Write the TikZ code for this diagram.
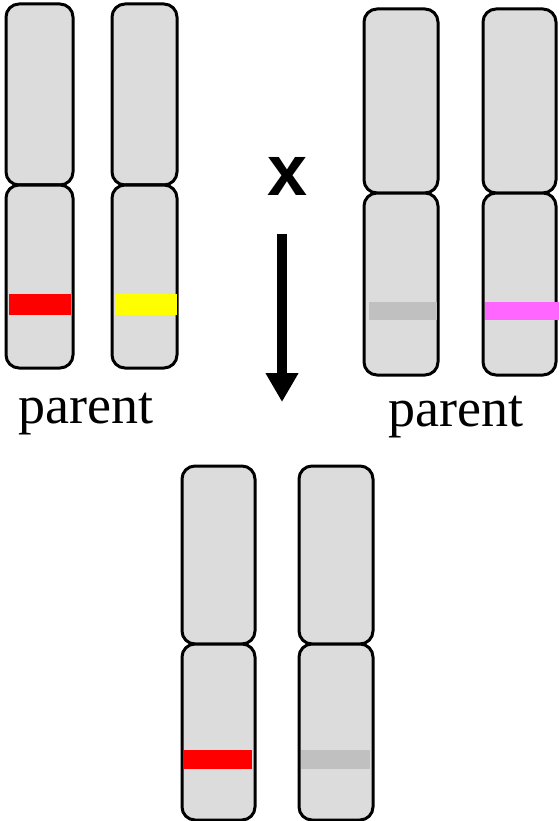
\documentclass[tikz,border=0pt]{standalone}
\usepackage{fontspec}
\setmainfont{Liberation Serif}
\newfontfamily\crossfont{Liberation Sans}
\usetikzlibrary{arrows.meta}
\definecolor{armgray}{RGB}{220,220,220}
\definecolor{bandgray}{RGB}{192,192,192}
\definecolor{bandred}{RGB}{255,0,0}
\definecolor{bandyellow}{RGB}{255,255,0}
\definecolor{bandpink}{RGB}{255,102,255}
\tikzset{
  arm/.style={draw=black, fill=armgray, line width=3pt, rounded corners=13pt,
    inner sep=0pt, outer sep=0pt, anchor=north west},
  band/.style={inner sep=0pt, outer sep=0pt, anchor=north west},
  label/.style={font=\fontsize{54}{54}\selectfont, inner sep=0pt, anchor=base},
  cross/.style={font=\crossfont\bfseries\fontsize{72}{72}\selectfont, inner sep=0pt, anchor=base},
}
% chromosome arms: \chromo{name}{left}{right}{top}{join}{bottom}
\newcommand{\chromo}[6]{%
  \node[arm, minimum width={#3-#2}, minimum height={#5-#4}] (#1top) at (#2,#4) {};
  \node[arm, minimum width={#3-#2}, minimum height={#6-#5}] (#1bot) at (#2,#5) {};
}
% allele band: \allele{name}{colour}{left}{right}{top}{bottom}
\newcommand{\allele}[6]{%
  \node[band, fill=#2, minimum width={#4-#3}, minimum height={#6-#5}] (#1) at (#3,#5) {};
}
\begin{document}
\begin{tikzpicture}[x=1pt, y=-1pt]
  \useasboundingbox (0,0) rectangle (559,821);
  \fill[white] (0,0) rectangle (559,821);

  % first parent
  \chromo{pa}{6}{73}{4}{185}{368}
  \chromo{pb}{112}{177}{4}{185}{368}
  \allele{ra}{bandred}{9}{71}{294}{315}
  \allele{ya}{bandyellow}{115}{177}{294}{315}
  \node[label] (parentL) at (86,423) {parent};

  % second parent
  \chromo{qa}{364}{438}{9}{193}{375}
  \chromo{qb}{483}{556}{9}{193}{375}
  \allele{ga}{bandgray}{369}{437}{302}{320}
  \allele{ma}{bandpink}{485}{559}{302}{320}
  \node[label] (parentR) at (456,426) {parent};

  % cross sign and arrow
  \node[cross] (crosssign) at (288,195) {x};
  \coordinate (arrowtop) at (282,234);
  \coordinate (arrowtip) at (282,402);
  \draw[line width=10pt, -{Triangle[width=31pt,length=29pt]}] (arrowtop) -- (arrowtip);

  % offspring
  \chromo{oa}{182}{255}{466}{644}{820}
  \chromo{ob}{299}{373}{466}{644}{820}
  \allele{rb}{bandred}{183}{252}{750}{769}
  \allele{gb}{bandgray}{301}{370}{750}{769}
\end{tikzpicture}
\end{document}
